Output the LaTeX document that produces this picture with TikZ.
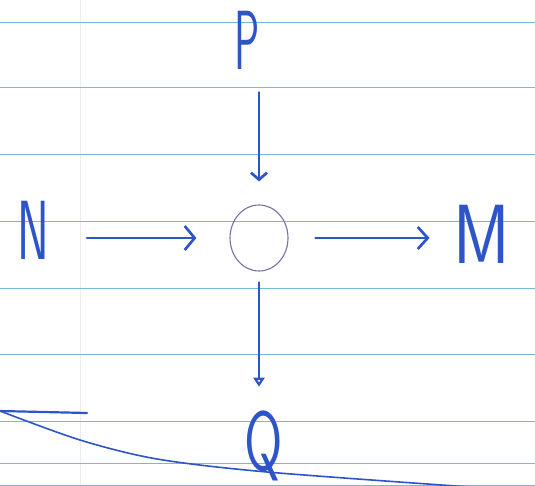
\documentclass[tikz,border=0pt]{standalone}
\usepackage{tikz}
\usetikzlibrary{shapes.geometric, arrows.meta, positioning, calc}
\definecolor{penblue}{RGB}{45,85,200}
\definecolor{ruleblue}{RGB}{120,185,212}
\definecolor{pencilgray}{RGB}{120,110,165}

\begin{document}
\begin{tikzpicture}[x=1pt, y=-1pt,
  letter/.style={text=penblue, inner sep=0pt, font=\fontsize{84}{84}\selectfont\sffamily},
  pen/.style={draw=penblue, line width=2.7pt, line cap=round},
  rule/.style={draw=ruleblue, line width=1pt}]

  \useasboundingbox (0,0) rectangle (535,486);

  % Ruled paper
  \draw[black!7, line width=0.8pt] (80,0) -- (80,486);
  \foreach \ly in {23,88,155,222,288,354,421,463,485}{
    \draw[rule] (0,\ly) -- (535,\ly);
  }

  % Letters
  \node[letter] (P) at (247,40) {\scalebox{0.5}[1]{P}};
  \node[letter] (N) at (33,230) {\scalebox{0.57}[1]{N}};
  \node[letter] (M) at (482,234) {\scalebox{0.82}[1]{M}};
  \node[letter] (Q) at (264,446) {\scalebox{0.66}[1]{Q}};

  % Centre
  \node[ellipse, draw=pencilgray, line width=1.1pt, inner sep=0pt,
        minimum width=58pt, minimum height=66pt] (O) at (259,238) {};

  % Arrows
  \draw[pen, -{Straight Barb[length=10pt, width=24pt]}, shorten <=38pt, shorten >=33pt]
    (N.east |- O.west) -- (O.west);
  \draw[pen, -{Straight Barb[length=10pt, width=22pt]}, shorten <=27pt, shorten >=24pt]
    (O.east) -- (M.west |- O.east);
  \draw[pen, -{Straight Barb[length=7pt, width=16pt]}, shorten <=23pt, shorten >=23pt]
    (O.north |- P.south) -- (O.north);
  \draw[pen, -{Triangle[open, length=9pt, width=11pt]}, shorten <=11pt, shorten >=24pt]
    (O.south) -- (O.south |- Q.north);

  % Strokes at the bottom
  \draw[pen, line width=2.2pt] (0,411) -- (87,413);
  \draw[pen, line width=1.6pt] plot[smooth] coordinates {(0,411) (80,440) (157,459) (267,472) (470,487)};

\end{tikzpicture}
\end{document}
